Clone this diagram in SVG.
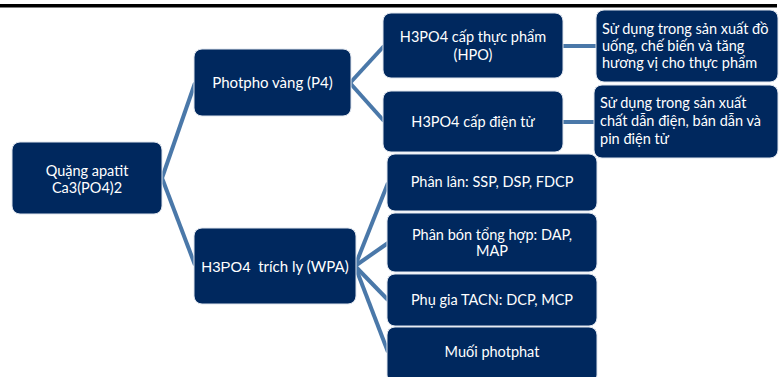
<svg xmlns="http://www.w3.org/2000/svg" width="781" height="377" viewBox="0 0 781 377">
<style>
.box{fill:#00285e;stroke:#dfe5ee;stroke-width:1}
.t{font-family:Lato,"Liberation Sans",sans-serif;font-size:14.5px;fill:#ffffff;text-anchor:middle}
.tl{font-family:Lato,"Liberation Sans",sans-serif;font-size:14.5px;fill:#ffffff}
.c{stroke:#4a78a9;stroke-width:4;fill:none}
</style>
<rect x="0" y="4" width="777" height="3.5" fill="#000000"/>
<g id="connectors">
<line class="c" x1="162" y1="178" x2="195" y2="83"/>
<line class="c" x1="162" y1="178" x2="195" y2="265"/>
<line class="c" x1="350" y1="83" x2="384" y2="46"/>
<line class="c" x1="350" y1="83" x2="384" y2="121"/>
<line class="c" x1="355" y1="266" x2="388" y2="183"/>
<line class="c" x1="355" y1="266" x2="388" y2="243"/>
<line class="c" x1="355" y1="266" x2="388" y2="300"/>
<line class="c" x1="355" y1="266" x2="388" y2="352"/>
<line class="c" x1="562" y1="46" x2="597" y2="46"/>
<line class="c" x1="562" y1="122" x2="595" y2="122"/>
</g>
<g id="n-quang"><rect class="box" x="12" y="142" width="150" height="72" rx="8"/><text class="t" x="87" y="176">Quặng apatit</text><text class="t" x="87" y="193">Ca3(PO4)2</text></g>
<g id="n-photpho"><rect class="box" x="194" y="49" width="157" height="67" rx="8"/><text class="t" x="272.5" y="88" style="font-size:15px">Photpho vàng (P4)</text></g>
<g id="n-wpa"><rect class="box" x="194" y="228" width="162" height="76" rx="8"/><text class="t" x="275" y="272" style="font-size:15px" xml:space="preserve"><tspan font-family="'Liberation Sans',sans-serif">H3PO4</tspan>  trích ly (WPA)</text></g>
<g id="n-hpo"><rect class="box" x="383" y="13" width="180" height="65" rx="8"/><text class="t" x="473" y="42">H3PO4 cấp thực phẩm</text><text class="t" x="473" y="60">(HPO)</text></g>
<g id="n-dientu"><rect class="box" x="383" y="91" width="180" height="61" rx="8"/><text class="t" x="473" y="127">H3PO4 cấp điện tử</text></g>
<g id="n-thucpham"><rect class="box" x="596" y="10" width="182" height="72" rx="8"/><text class="tl" x="602" y="34">Sử dụng trong sản xuất đồ</text><text class="tl" x="602" y="51">uống, chế biến và tăng</text><text class="tl" x="602" y="68">hương vị cho thực phẩm</text></g>
<g id="n-dien"><rect class="box" x="594" y="85" width="184" height="73" rx="8"/><text class="tl" x="600" y="108">Sử dụng trong sản xuất</text><text class="tl" x="600" y="126">chất dẫn điện, bán dẫn và</text><text class="tl" x="600" y="144">pin điện tử</text></g>
<g id="n-phanlan"><rect class="box" x="387" y="154" width="210" height="57" rx="8"/><text class="t" x="492" y="187">Phân lân: SSP, DSP, FDCP</text></g>
<g id="n-phanbon"><rect class="box" x="387" y="213" width="210" height="59" rx="8"/><text class="t" x="492" y="240">Phân bón tổng hợp: DAP,</text><text class="t" x="492" y="256">MAP</text></g>
<g id="n-phugia"><rect class="box" x="387" y="274" width="210" height="52" rx="8"/><text class="t" x="492" y="305">Phụ gia TACN: DCP, MCP</text></g>
<g id="n-muoi"><rect class="box" x="387" y="327" width="210" height="56" rx="8"/><text class="t" x="492" y="357">Muối photphat</text></g>
</svg>
